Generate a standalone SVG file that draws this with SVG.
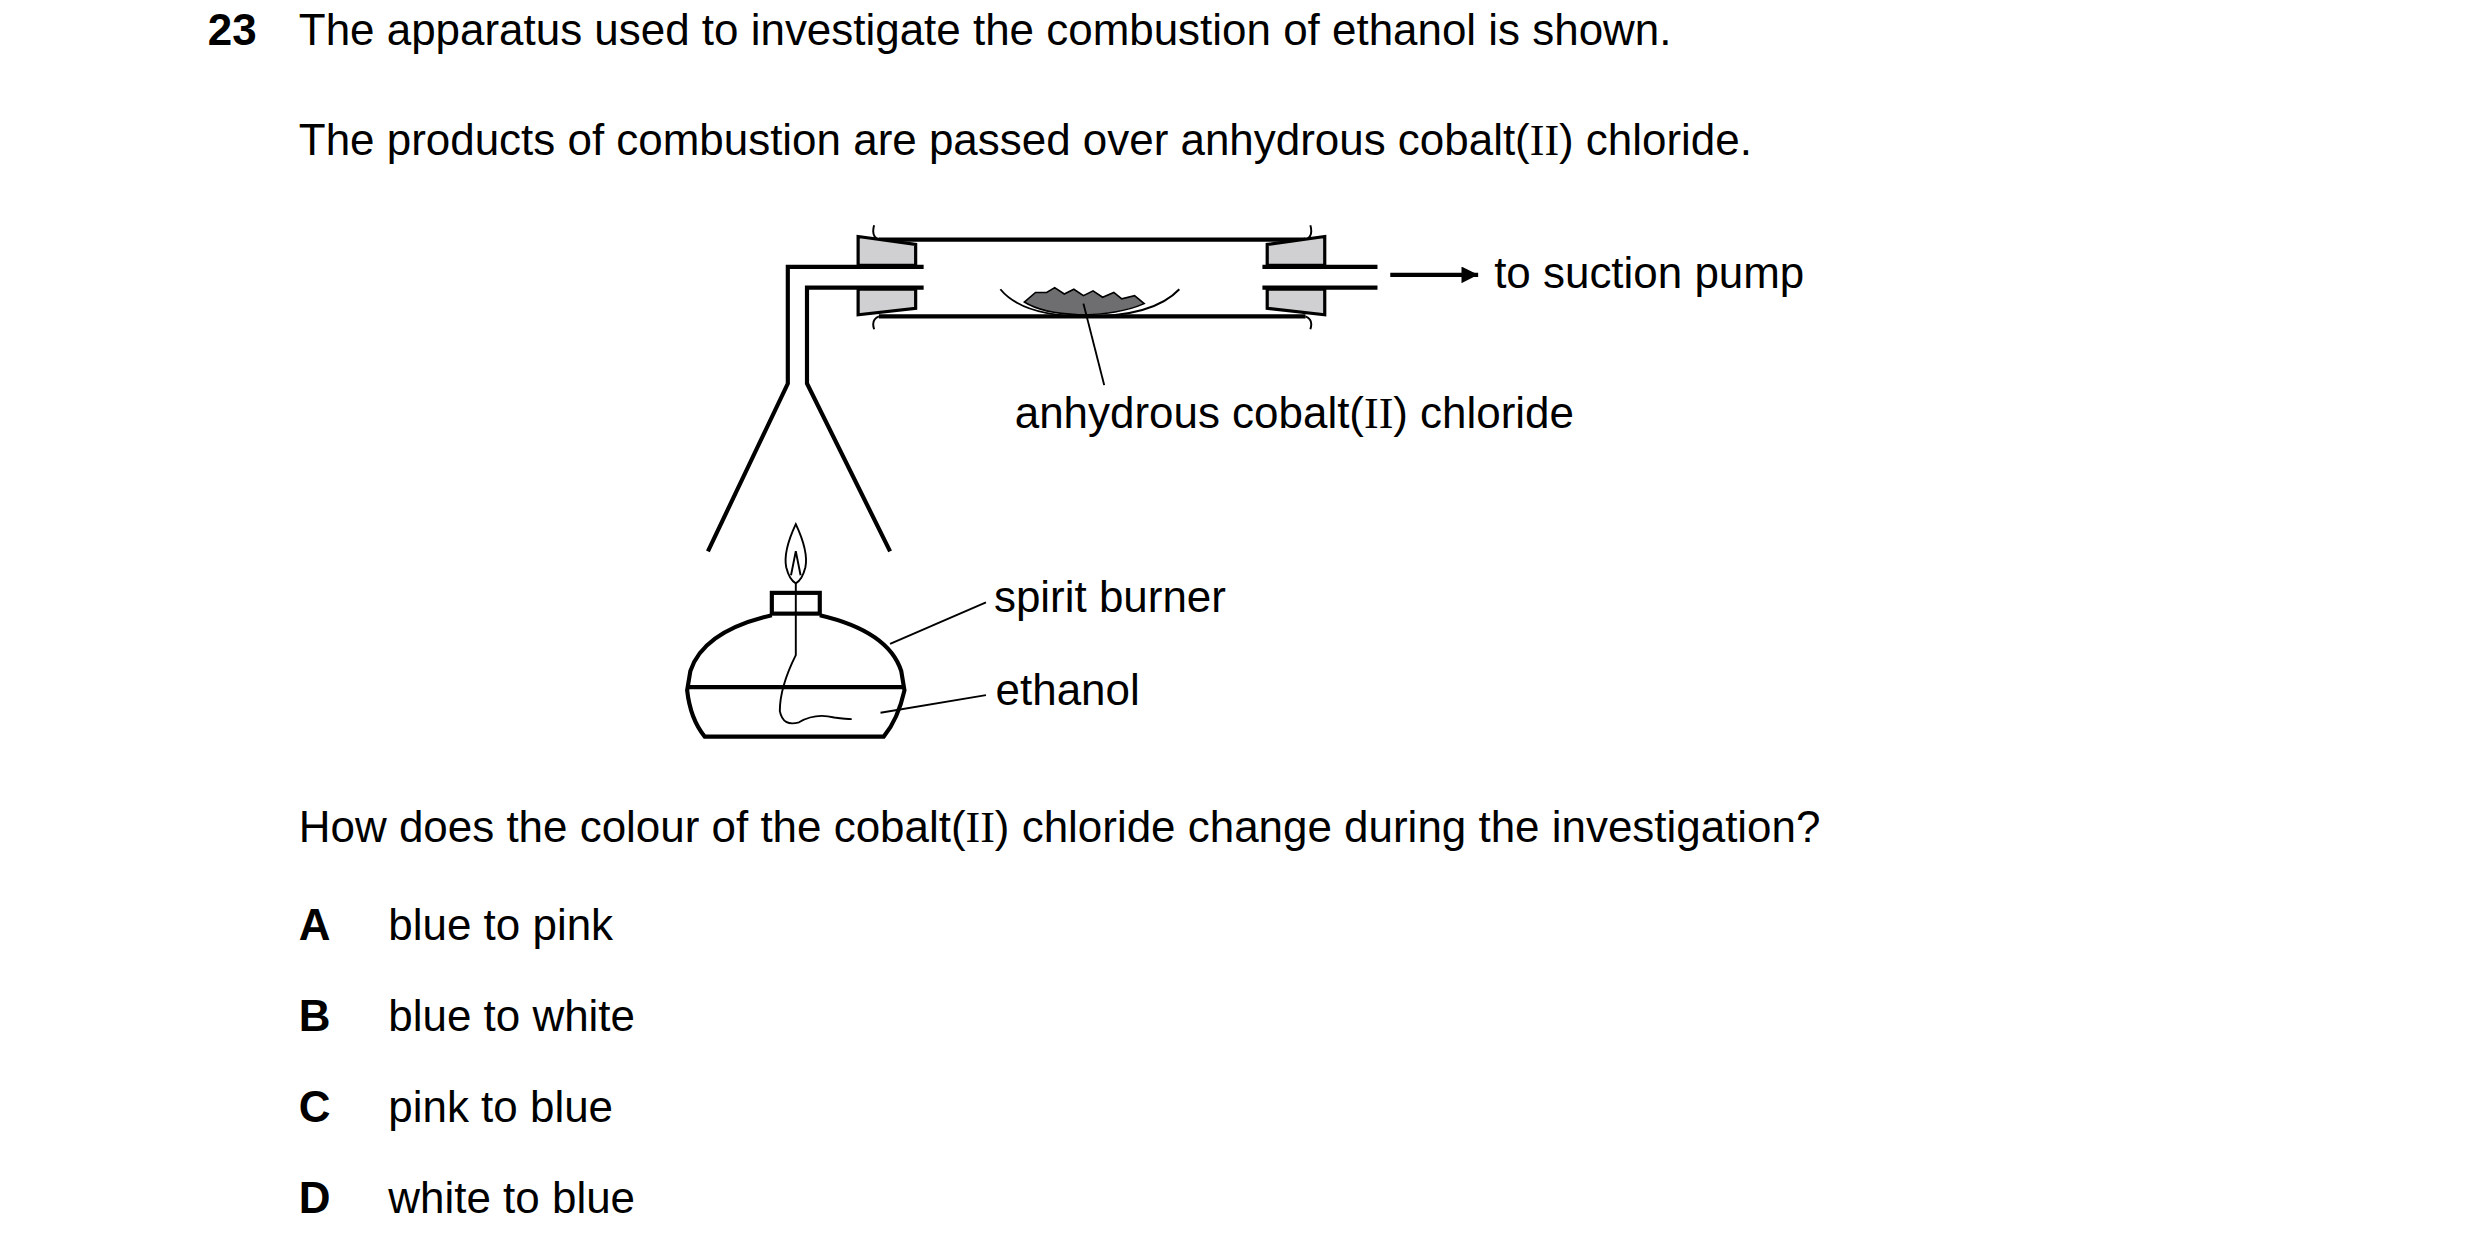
<svg xmlns="http://www.w3.org/2000/svg" width="2480" height="1241" viewBox="0 0 2480 1241">
<style>
text{font-family:"Liberation Sans",Arial,sans-serif;font-size:27.5px;fill:#000}
.b{font-weight:bold}
.s{font-family:"Liberation Serif","Times New Roman",serif}
.ln{fill:none;stroke:#000;stroke-width:2.6}
.th{fill:none;stroke:#000;stroke-width:1.2}
.bung{fill:#d0d0d2;stroke:#000;stroke-width:2}
</style>
<defs><marker id="ah" viewBox="0 0 10 10" refX="10" refY="5" markerWidth="6" markerHeight="4" markerUnits="strokeWidth" orient="auto"><path d="M0,0L10,5L0,10z" fill="#000"/></marker></defs>
<rect width="2480" height="1241" fill="#fff"/>
<g transform="scale(1.598)">
<g id="question">
<text x="130" y="28" class="b">23</text>
<text x="187" y="28">The apparatus used to investigate the combustion of ethanol is shown.</text>
<text x="187" y="97">The products of combustion are passed over anhydrous cobalt(<tspan class="s">II</tspan>) chloride.</text>
<text x="187" y="527">How does the colour of the cobalt(<tspan class="s">II</tspan>) chloride change during the investigation?</text>
<text x="187" y="588" class="b">A</text><text x="243" y="588">blue to pink</text>
<text x="187" y="645" class="b">B</text><text x="243" y="645">blue to white</text>
<text x="187" y="702" class="b">C</text><text x="243" y="702">pink to blue</text>
<text x="187" y="759" class="b">D</text><text x="243" y="759">white to blue</text>
</g>
<g id="combustion-tube">
<line class="ln" x1="550" y1="150" x2="817" y2="150"/>
<line class="ln" x1="550" y1="198" x2="817" y2="198"/>
<path class="th" d="M547,141 Q545,148 550,150 M820,141 Q822,148 817,150 M547,206 Q545,200 550,198 M820,206 Q822,200 817,198"/>
<path class="bung" d="M537,148 L573,153 L573,166 L537,166 Z M537,181 L573,181 L573,193 L537,197 Z"/>
<path class="bung" d="M829,148 L793,153 L793,166 L829,166 Z M829,181 L793,181 L793,193 L829,197 Z"/>
<path class="ln" d="M578,167 L493,167 L493,240 L443,345 M578,180 L505,180 L505,240 L557,345"/>
<path class="ln" d="M790,167 L862,167 M790,180 L862,180"/>
</g>
<g id="cobalt-chloride">
<path d="M641,189 L648,183 L655,183 L660,180 L666,184 L672,181 L678,185 L684,182 L690,186 L697,183 L702,187 L710,185 L716,190 Q700,197 675,197 Q652,196 641,189 Z" fill="#6e6e70" stroke="#000" stroke-width="1"/>
<path class="th" d="M626,181 Q640,198 680,198 Q722,198 738,181" stroke-width="1.8"/>
<line class="th" x1="678" y1="190" x2="691" y2="241"/>
<text x="635" y="268">anhydrous cobalt(<tspan class="s">II</tspan>) chloride</text>
</g>
<g id="spirit-burner">
<path class="th" d="M498,328 Q490,345 492,355 Q494,363 498,365 Q502,363 504,355 Q506,345 498,328 Z M495,360 L498,345 L501,360"/>
<rect class="ln" x="483" y="371" width="30" height="13" stroke-width="2"/>
<path class="ln" d="M483,385 Q440,395 432,420 L430,432 Q432,450 441,461 L553,461 Q562,450 566,432 L564,420 Q556,395 513,385"/>
<line class="ln" x1="430" y1="430" x2="566" y2="430"/>
<path class="th" d="M498,365 L498,410 Q488,430 488,445 Q490,455 500,452 Q510,446 522,449 Q530,450 533,450"/>
<line class="th" x1="557" y1="403" x2="617" y2="377"/>
<line class="th" x1="551" y1="446" x2="617" y2="435"/>
<text x="622" y="383">spirit burner</text>
<text x="623" y="441">ethanol</text>
</g>
<g id="connectors">
<line class="ln" x1="870" y1="172" x2="925" y2="172" stroke-width="2" marker-end="url(#ah)"/>
<text x="935" y="180">to suction pump</text>
</g>
</g>
</svg>
